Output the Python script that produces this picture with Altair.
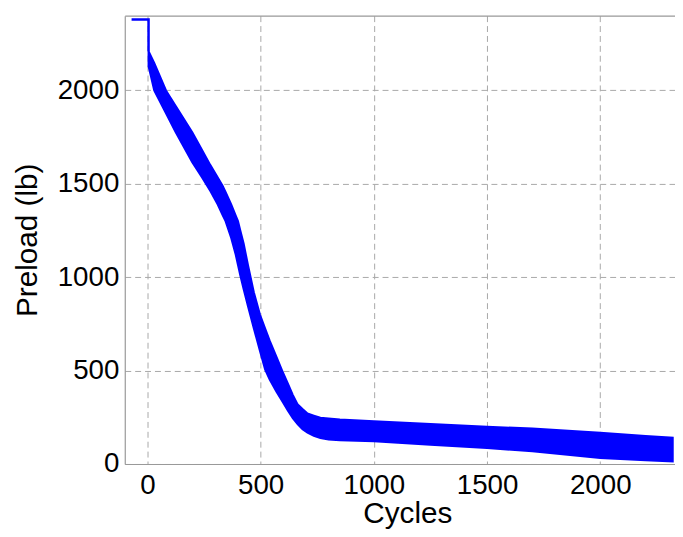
import altair as alt
import pandas as pd

# Band of the cyclic preload signal: upper and lower envelopes (lb) versus cycle count
cycles = [5, 30, 82, 125, 198, 240, 278, 310, 332, 345, 370, 390, 400, 410, 425, 445,
          470, 497, 520, 540, 570, 595, 620, 642, 664, 685, 707, 735, 764, 800, 850,
          1000, 1250, 1500, 1700, 2000, 2200, 2320]
upper = [2210, 2147, 2000, 1917, 1776, 1684, 1600, 1535, 1490, 1456, 1390, 1330, 1300,
         1252, 1180, 1060, 920, 800, 725, 660, 573, 500, 431, 370, 318, 294, 270, 259,
         248, 244, 238, 229, 214, 199, 190, 167, 150, 141]
lower = [2130, 2000, 1877, 1776, 1615, 1536, 1461, 1390, 1333, 1300, 1210, 1120, 1065,
         1010, 935, 841, 726, 605, 505, 452, 387, 337, 286, 245, 212, 186, 168, 151,
         139, 131, 127, 122, 103, 85, 68, 32, 20, 14]

# Initial hold before cycling starts
start_cycles = [-70, 5, 5]
start_load = [2380, 2380, 2210]
start_step = [0, 1, 2]

x_ticks = [0, 500, 1000, 1500, 2000]
y_ticks = [0, 500, 1000, 1500, 2000]

band_df = pd.DataFrame({"cycle": cycles, "upper": upper, "lower": lower})
start_df = pd.DataFrame({"cycle": start_cycles, "load": start_load, "step": start_step})

W, H = 556, 453
FONT = "Liberation Sans"
BLUE = "#0000ff"

xscale = alt.Scale(domain=[-100, 2330], nice=False, zero=False)
yscale = alt.Scale(domain=[0, 2400], nice=False, zero=False)

common = dict(
    format="d",
    labelFont=FONT, labelFontSize=28, labelColor="black",
    titleFont=FONT, titleFontSize=30, titleFontWeight="normal", titleColor="black",
    ticks=False, tickSize=0,
    grid=True, gridDash=[6, 4], gridColor="#a8a8a8", gridWidth=1,
    domainColor="#999999", domainWidth=1.2,
    labelFlush=False, labelOverlap=False,
)

x_axis = alt.Axis(values=x_ticks, title="Cycles", labelPadding=8,
                  titleX=285.5, titleY=59, titleAlign="center",
                  titleBaseline="alphabetic", **common)
y_axis = alt.Axis(values=y_ticks, title="Preload (lb)", labelPadding=6,
                  titleX=-89, titleY=H / 2, titleAngle=270, titleAlign="center",
                  titleBaseline="alphabetic", **common)
top_axis = alt.Axis(orient="top", labels=False, ticks=False, grid=False, domain=True,
                    title=None, domainColor="#999999", domainWidth=1.2)

band = alt.Chart(band_df).mark_area(
    color=BLUE, stroke=BLUE, strokeWidth=2, opacity=1, clip=True
).encode(
    x=alt.X("cycle:Q", scale=xscale, axis=x_axis),
    y=alt.Y("upper:Q", scale=yscale, axis=y_axis),
    y2="lower:Q",
)

start = alt.Chart(start_df).mark_line(
    color=BLUE, strokeWidth=2.5, clip=True
).encode(
    x=alt.X("cycle:Q", scale=xscale, axis=top_axis),
    y=alt.Y("load:Q", scale=yscale, axis=y_axis),
    order=alt.Order("step:Q"),
)

chart = alt.layer(band, start).resolve_axis(x="independent").properties(
    width=W, height=H,
    autosize=alt.AutoSizeParams(type="none"),
    padding={"left": 118, "top": 5, "right": 0, "bottom": 70},
).configure_view(strokeWidth=0)

chart.save("out.html", embed_options={"renderer": "svg", "actions": False})
